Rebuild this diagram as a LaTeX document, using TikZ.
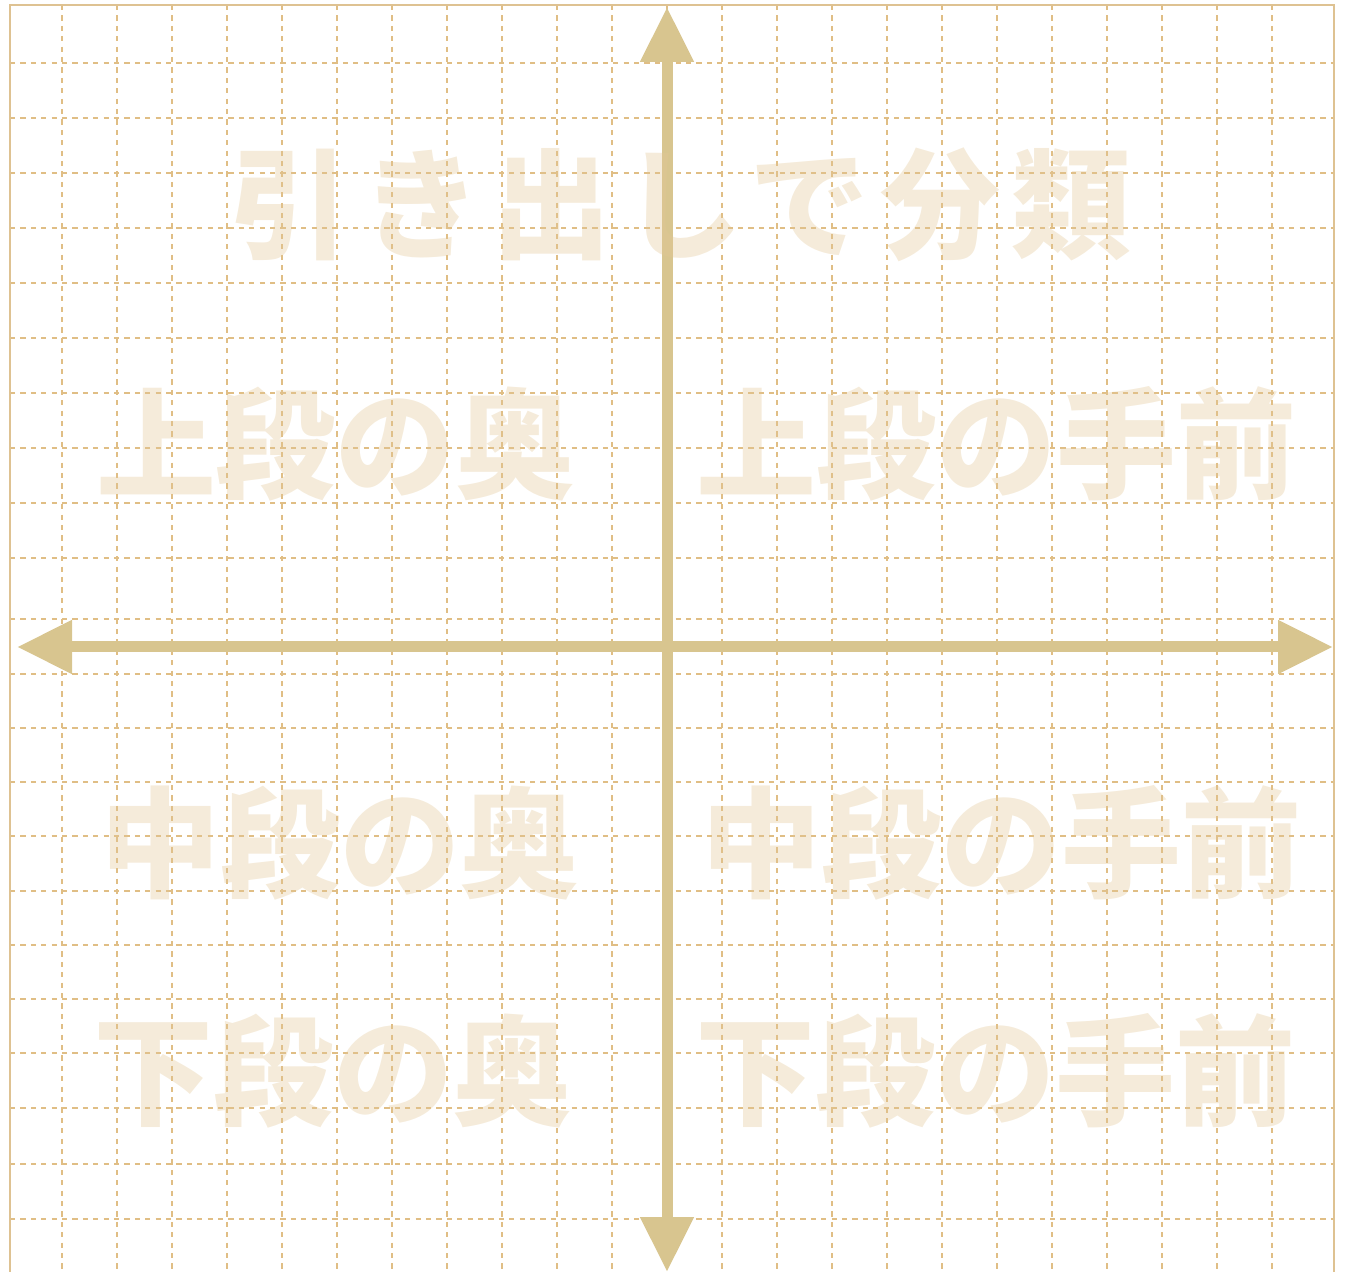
\documentclass[tikz,border=0pt]{standalone}
\usepackage{fontspec}
\usetikzlibrary{arrows.meta}
\newfontfamily\jpfont{Noto Sans CJK JP}
\definecolor{gridtan}{RGB}{224,190,133}
\definecolor{frametan}{RGB}{222,194,146}
\definecolor{axistan}{RGB}{216,197,143}
\definecolor{labeltan}{RGB}{226,198,149}
\tikzset{
  gridline/.style={gridtan, line width=0.6pt, dash pattern=on 2.6pt off 2.6pt},
  axisline/.style={axistan, line width=5.5pt, {Triangle[length=27.5pt,width=25.5pt]}-{Triangle[length=27.5pt,width=25.5pt]}},
  shelflabel/.style={labeltan, opacity=0.35, inner sep=0pt, anchor=base,
    font=\jpfont\bfseries\fontsize{60}{72}\selectfont}
}
\begin{document}
\begin{tikzpicture}[x=0.5pt, y=-0.5pt]
				\useasboundingbox (0,0) rectangle (1345,1272);

				% dashed grid
				\foreach \gx in {0,...,22} \draw[gridline] (62+55*\gx,5)--(62+55*\gx,1272);
				\foreach \gy in {63,118,173,228,283,338,393,448,503,558,619,674,728,782,836,891,945,999,1053,1108,1164,1219}
					\draw[gridline] (10,\gy)--(1334,\gy);

				\draw[frametan, line width=1.1pt] (10,1272)--(10,5)--(1334,5)--(1334,1272);

				% axes
				\coordinate (top) at (667,7);
				\coordinate (bottom) at (667,1272);
				\coordinate (left) at (17,647);
				\coordinate (right) at (1333,647);
				\draw[axisline] (bottom)--(top);
				\draw[axisline] (left)--(right);

				% labels
				\node[shelflabel, font=\jpfont\bfseries\fontsize{60}{72}\selectfont\addfontfeature{LetterSpace=9}] (title) at (681,250) {引き出しで分類};
				\node[shelflabel] (upperback) at (336,490) {上段の奥};
				\node[shelflabel] (upperfront) at (996,490) {上段の手前};
				\node[shelflabel] (middleback) at (340,888) {中段の奥};
				\node[shelflabel] (middlefront) at (1001,888) {中段の手前};
				\node[shelflabel] (lowerback) at (333,1116) {下段の奥};
				\node[shelflabel] (lowerfront) at (995,1116) {下段の手前};

\end{tikzpicture}
\end{document}
